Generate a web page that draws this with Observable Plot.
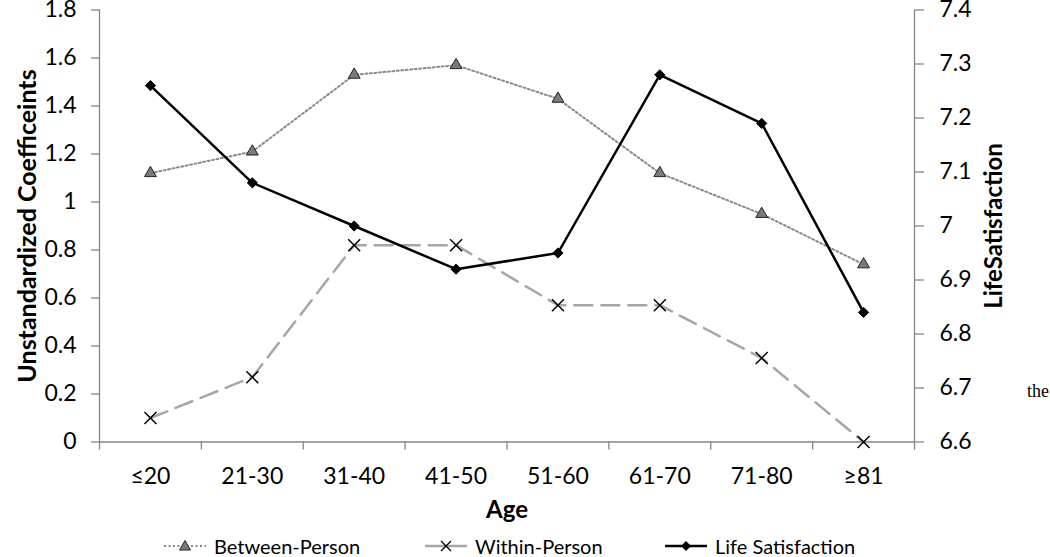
<!DOCTYPE html>
<html>
<head>
<meta charset="utf-8">
<script src="https://cdn.jsdelivr.net/npm/d3@7"></script>
<script src="https://cdn.jsdelivr.net/npm/@observablehq/plot@0.6"></script>
<style>
  html, body { margin: 0; padding: 0; background: #fff; }
  #wrap { position: relative; width: 1050px; height: 557px; overflow: hidden; font-family: Lato, "Open Sans", sans-serif; }
  #legend { position: absolute; left: 0; top: 535px; width: 1050px; height: 22px; font-size: 20px; color: #000; }
  .item { position: absolute; top: 0; height: 21px; display: flex; align-items: center; white-space: nowrap; }
  .item svg { margin-right: 6px; }
  #stray { position: absolute; left: 1027px; top: 381px; font-family: "Liberation Serif", serif; font-size: 18px; color: #000; }
</style>
</head>
<body>
<div id="wrap">
  <div id="chart"></div>
  <div id="legend"></div>
  <div id="stray">the</div>
</div>
<script>
const categories = ["≤20", "21-30", "31-40", "41-50", "51-60", "61-70", "71-80", "≥81"];
const betweenPerson = [1.12, 1.21, 1.53, 1.57, 1.43, 1.12, 0.95, 0.74];
const withinPerson = [0.10, 0.27, 0.82, 0.82, 0.57, 0.57, 0.35, 0.00];
const lifeSatisfaction = [7.26, 7.08, 7.00, 6.92, 6.95, 7.28, 7.19, 6.84];
const leftTicks = [0, 0.2, 0.4, 0.6, 0.8, 1, 1.2, 1.4, 1.6, 1.8];
const leftTickLabels = ["0", "0.2", "0.4", "0.6", "0.8", "1", "1.2", "1.4", "1.6", "1.8"];
const rightTicks = [6.6, 6.7, 6.8, 6.9, 7.0, 7.1, 7.2, 7.3, 7.4];
const rightTickLabels = ["6.6", "6.7", "6.8", "6.9", "7", "7.1", "7.2", "7.3", "7.4"];
const leftDomain = [0, 1.8];
const rightDomain = [6.6, 7.4];
const seriesNames = ["Between-Person", "Within-Person", "Life Satisfaction"];

// map right-axis values onto the left scale
const toLeft = v => (v - rightDomain[0]) / (rightDomain[1] - rightDomain[0]) * (leftDomain[1] - leftDomain[0]) + leftDomain[0];

const idx = categories.map((c, i) => i);
const between = idx.map(i => ({x: i, y: betweenPerson[i]}));
const within = idx.map(i => ({x: i, y: withinPerson[i]}));
const life = idx.map(i => ({x: i, y: toLeft(lifeSatisfaction[i])}));
const boundaries = [-0.5, ...idx.map(i => i + 0.5)];

const axisGray = "#868686";

const chart = Plot.plot({
  width: 1050,
  height: 535,
  marginLeft: 99,
  marginRight: 136,
  marginTop: 9.5,
  marginBottom: 93.5,
  x: {type: "linear", domain: [-0.5, categories.length - 0.5]},
  y: {domain: leftDomain},
  style: {fontFamily: "Lato, 'Open Sans', sans-serif", fontSize: "23px", color: "#000", background: "#fff", overflow: "visible"},
  marks: [
    // left axis
    Plot.axisY({ticks: leftTicks, tickFormat: d => leftTickLabels[leftTicks.indexOf(d)], tickSize: 8, tickPadding: 15, stroke: axisGray, strokeWidth: 1.3, label: null, fontSize: 23}),
    // right axis
    Plot.axisY({anchor: "right", ticks: rightTicks.map(toLeft), tickFormat: d => rightTickLabels[rightTicks.findIndex(v => Math.abs(toLeft(v) - d) < 1e-9)], tickSize: 9, tickPadding: 16, stroke: axisGray, strokeWidth: 1.3, label: null, fontSize: 23}),
    // bottom axis: ticks at category boundaries, labels at category centers
    Plot.axisX({ticks: boundaries, tickFormat: () => "", tickSize: 8, stroke: axisGray, strokeWidth: 1.3, label: null}),
    Plot.axisX({ticks: idx, tickFormat: i => categories[i], tickSize: 0, tickPadding: 26, label: null, fontSize: 23}),
    Plot.ruleX([boundaries[0], boundaries[boundaries.length - 1]], {stroke: axisGray, strokeWidth: 1.3}),
    Plot.ruleY([leftDomain[0]], {stroke: axisGray, strokeWidth: 1.3}),
    // titles
    Plot.text(["Unstandardized Coefficeints"], {frameAnchor: "left", rotate: -90, textAnchor: "middle", dx: -72, fontWeight: "bold", fontSize: 25}),
    Plot.text(["LifeSatisfaction"], {frameAnchor: "right", rotate: -90, textAnchor: "middle", dx: 80, fontWeight: "bold", fontSize: 24}),
    Plot.text(["Age"], {frameAnchor: "bottom", dy: 76, fontWeight: "bold", fontSize: 24}),
    // Between-Person
    Plot.line(between, {x: "x", y: "y", stroke: "#8a8a8a", strokeWidth: 2, strokeDasharray: "2,2.5"}),
    Plot.dot(between, {x: "x", y: "y", symbol: "triangle", r: 4.4, fill: "#7a7a7a", stroke: "#222", strokeWidth: 1}),
    // Within-Person
    Plot.line(within, {x: "x", y: "y", stroke: "#a6a6a6", strokeWidth: 2.5, strokeDasharray: "18,9"}),
    Plot.dot(within, {x: "x", y: "y", symbol: "times", r: 5.5, stroke: "#000", strokeWidth: 1.5}),
    // Life Satisfaction
    Plot.line(life, {x: "x", y: "y", stroke: "#000", strokeWidth: 2.5}),
    Plot.dot(life, {x: "x", y: "y", symbol: "diamond2", r: 4.6, fill: "#000", stroke: "#000", strokeWidth: 1})
  ]
});
document.getElementById("chart").appendChild(chart);

// legend
const legend = document.getElementById("legend");
const swatches = [
  `<svg width="46" height="21"><line x1="2" y1="11" x2="44" y2="11" stroke="#8a8a8a" stroke-width="2" stroke-dasharray="2,2.5"/><polygon points="23,5.5 28.5,15 17.5,15" fill="#7a7a7a" stroke="#222" stroke-width="1"/></svg>`,
  `<svg width="46" height="21"><line x1="2" y1="11" x2="44" y2="11" stroke="#a6a6a6" stroke-width="2.5"/><path d="M18,6L28,16M28,6L18,16" stroke="#000" stroke-width="1.3"/></svg>`,
  `<svg width="46" height="21"><line x1="2" y1="11" x2="44" y2="11" stroke="#000" stroke-width="2.5"/><polygon points="23,6 28,11 23,16 18,11" fill="#000"/></svg>`
];
const lefts = [162, 423, 663];
seriesNames.forEach((name, i) => {
  const d = document.createElement("div");
  d.className = "item";
  d.style.left = lefts[i] + "px";
  d.innerHTML = swatches[i] + `<span>${name}</span>`;
  legend.appendChild(d);
});
</script>
</body>
</html>
